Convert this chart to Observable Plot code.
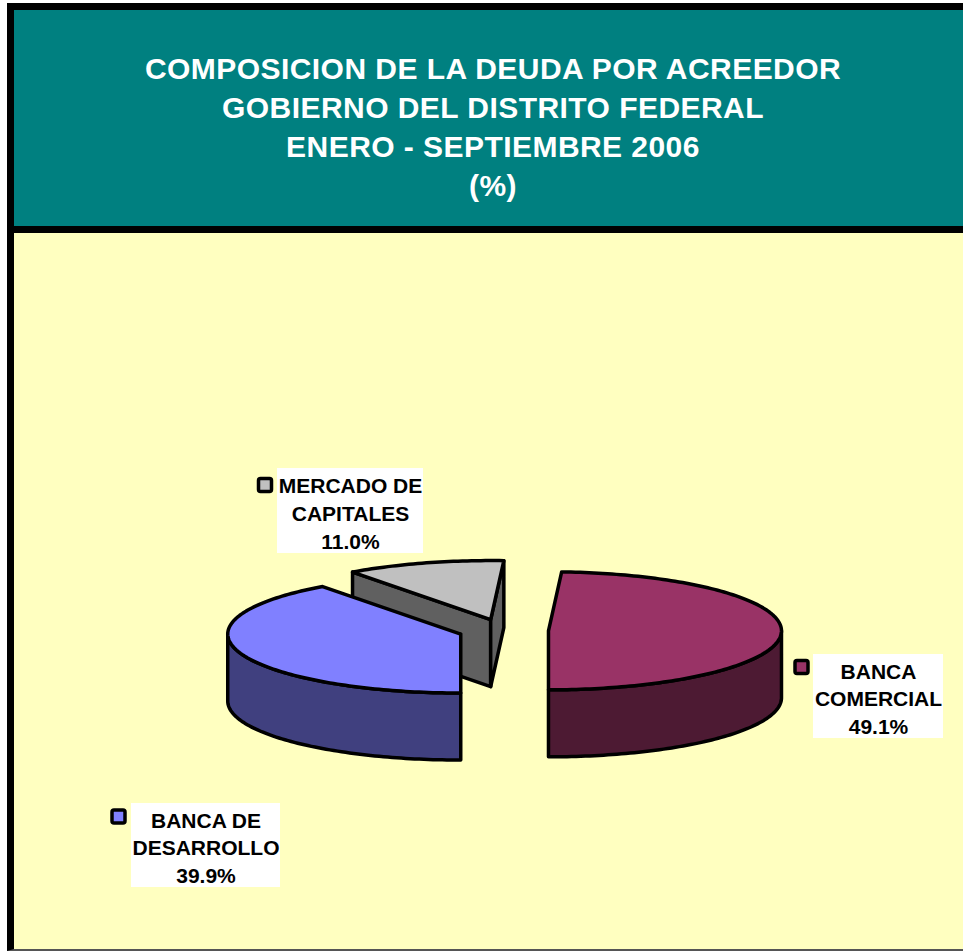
<!DOCTYPE html>
<html>
<head>
<meta charset="utf-8">
<script src="https://cdn.jsdelivr.net/npm/d3@7"></script>
<script src="https://cdn.jsdelivr.net/npm/@observablehq/plot@0.6"></script>
<style>
html, body { margin: 0; padding: 0; background: #fff; overflow: hidden; width: 963px; height: 951px; }
#frame { position: absolute; left: 7px; top: 3px; width: 1000px; border-left: 7px solid #000; border-top: 7px solid #000; border-bottom: 2px solid #555; }
#header { background: #008080; height: 216px; box-sizing: border-box; padding-top: 39px; width: 958px;
  font-family: "Liberation Sans", Arial, sans-serif; font-weight: bold; font-size: 30px; line-height: 39px; color: #fff; text-align: center; letter-spacing: 0.45px; }
#sep { height: 7px; background: #000; width: 1000px; }
#chart { background: #FFFFC0; width: 1000px; height: 716px; }
#chart svg { display: block; }
</style>
</head>
<body>
<div id="frame">
  <div id="header">
    <div>COMPOSICION DE LA DEUDA POR ACREEDOR</div>
    <div>GOBIERNO DEL DISTRITO FEDERAL</div>
    <div>ENERO - SEPTIEMBRE 2006</div>
    <div>(%)</div>
  </div>
  <div id="sep"></div>
  <div id="chart"></div>
</div>
<script>
// ---- data ----
const categories = ["BANCA COMERCIAL", "BANCA DE DESARROLLO", "MERCADO DE CAPITALES"];
const labelNames = ["BANCA\nCOMERCIAL", "BANCA DE\nDESARROLLO", "MERCADO DE\nCAPITALES"];
const shares = [49.1, 39.9, 11.0];
const topColors = ["#993366", "#8080FF", "#C0C0C0"];
const sideColors = ["#4D1A33", "#40407F", "#606060"];

// ---- layout (panel pixels) ----
const W = 949, H = 716;
const pieGeom = { cx: 489, cy: 397, rx: 233, ry: 59, depth: 67, explode: 45 };
const labelLayout = [
  { cx: 878, cy: 696, w: 130, h: 84, kx: 801.5, ky: 667 },
  { cx: 205.5, cy: 845, w: 149, h: 84, kx: 118.5, ky: 816.5 },
  { cx: 350, cy: 510.5, w: 146, h: 85, kx: 265, ky: 485 }
].map(d => ({ ...d, cx: d.cx - 14, cy: d.cy - 233, kx: d.kx - 14, ky: d.ky - 233 }));

// ---- geometry from data ----
const first = 2 * Math.PI * shares[0] / 100;
const arcs = d3.pie().sort(null).value(d => d)
  .startAngle(Math.PI - first).endAngle(Math.PI - first + 2 * Math.PI)(shares);

const { cx, cy, rx, ry, depth, explode } = pieGeom;
const slices = arcs.map((a, i) => {
  const mid = (a.startAngle + a.endAngle) / 2;
  const ox = cx + explode * Math.sin(mid);
  const oy = cy - explode * (ry / rx) * Math.cos(mid);
  return { i, a0: a.startAngle, a1: a.endAngle, ox, oy };
});

function P(s, phi, h) { return { x: s.ox + rx * Math.sin(phi), y: s.oy - ry * Math.cos(phi) + h }; }
function arcPts(s, b0, b1, h) {
  const n = Math.max(2, Math.ceil(Math.abs(b1 - b0) / 0.02));
  return d3.range(n + 1).map(k => P(s, b0 + (b1 - b0) * k / n, h));
}

const faces = [];
slices.slice().sort((p, q) => p.oy - q.oy).forEach(s => {
  const c0 = { x: s.ox, y: s.oy }, c1 = { x: s.ox, y: s.oy + depth };
  if (Math.sin(s.a0) < -1e-6) {
    const p0 = P(s, s.a0, 0), p1 = P(s, s.a0, depth);
    faces.push({ fill: sideColors[s.i], pts: [c0, p0, p1, c1, c0] });
  }
  if (Math.sin(s.a1) > 1e-6) {
    const p0 = P(s, s.a1, 0), p1 = P(s, s.a1, depth);
    faces.push({ fill: sideColors[s.i], pts: [c0, p0, p1, c1, c0] });
  }
  for (const base of [0, 2 * Math.PI]) {
    const lo = Math.max(s.a0, base + Math.PI / 2), hi = Math.min(s.a1, base + 3 * Math.PI / 2);
    if (hi > lo + 1e-6) {
      const top = arcPts(s, lo, hi, 0), bot = arcPts(s, hi, lo, depth);
      faces.push({ fill: sideColors[s.i], pts: [...top, ...bot, top[0]] });
    }
  }
  faces.push({ fill: topColors[s.i], pts: [c0, ...arcPts(s, s.a0, s.a1, 0), c0] });
});

const labels = shares.map((v, i) => ({
  ...labelLayout[i],
  text: labelNames[i] + "\n" + v.toFixed(1) + "%",
  color: topColors[i],
  name: categories[i]
}));

const font = "'Liberation Sans', Arial, sans-serif";
const marks = faces.map(f => Plot.line(f.pts, {
  x: "x", y: "y", fill: f.fill, stroke: "#000", strokeWidth: 3.5,
  strokeLinejoin: "round", curve: "linear"
}));
marks.push(
  Plot.rect(labels, { x1: d => d.cx - d.w / 2, x2: d => d.cx + d.w / 2, y1: d => d.cy - d.h / 2, y2: d => d.cy + d.h / 2, fill: "#fff" }),
  Plot.rect(labels, { x1: d => d.kx - 6.5, x2: d => d.kx + 6.5, y1: d => d.ky - 6.5, y2: d => d.ky + 6.5,
    fill: "color", stroke: "#000", strokeWidth: 3.5, rx: 2 }),
  Plot.text(labels, { x: "cx", y: d => d.cy + 1, text: "text", fontSize: 21, fontWeight: "bold",
    fontFamily: font, fill: "#000", lineHeight: 1.33, textAnchor: "middle", lineAnchor: "middle" })
);

const svg = Plot.plot({
  width: W, height: H,
  margin: 0,
  x: { domain: [0, W], range: [0, W], axis: null },
  y: { domain: [0, H], range: [0, H], axis: null },
  color: { type: "identity" },
  style: { background: "#FFFFC0", overflow: "visible" },
  marks
});
document.getElementById("chart").appendChild(svg);
</script>
</body>
</html>
